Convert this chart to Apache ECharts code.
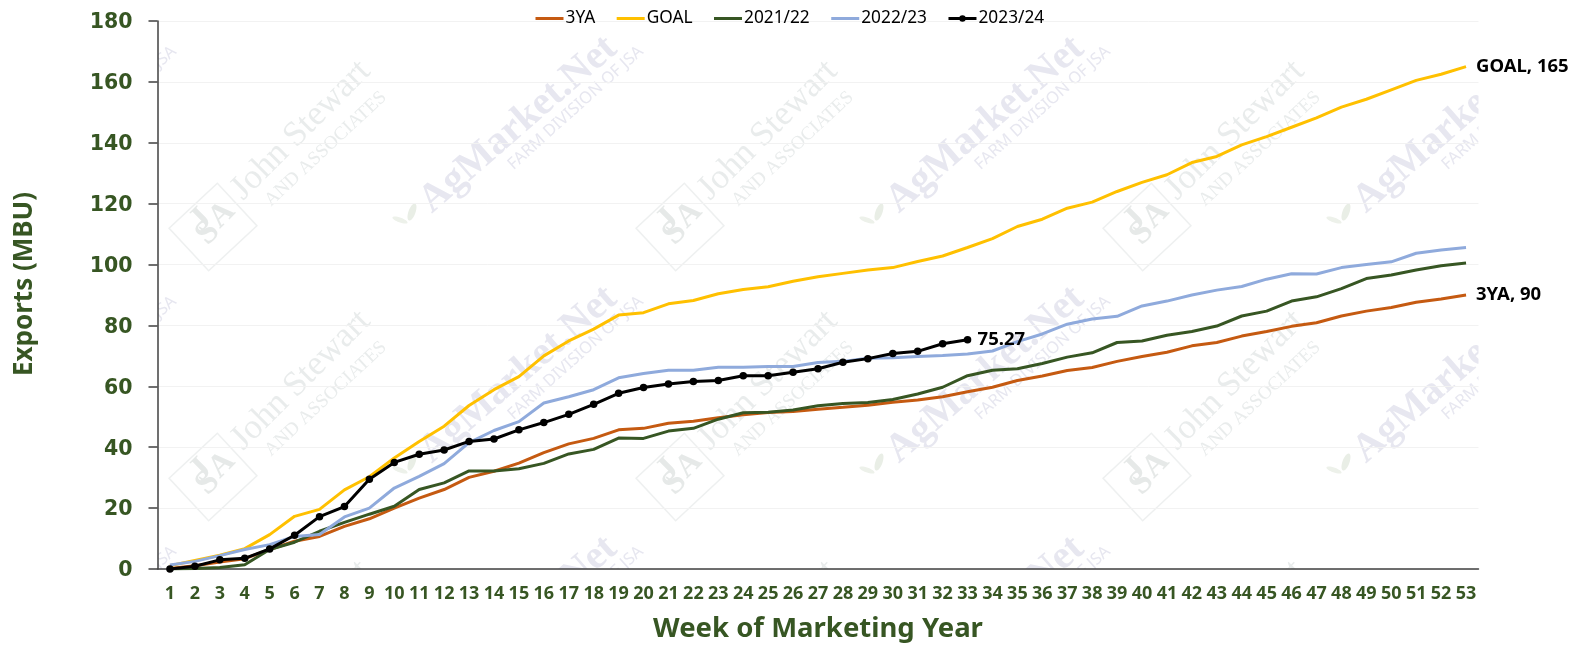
<!DOCTYPE html>
<html>
<head>
<meta charset="utf-8">
<title>Exports</title>
<style>
  html, body { margin: 0; padding: 0; background: #fff; }
  #chart { width: 1585px; height: 645px; }
</style>
</head>
<body>
<div id="chart"></div>
<script src="https://cdn.jsdelivr.net/npm/echarts@6/dist/echarts.min.js"></script>
<script>
const weeks = []
for (let w = 1; w <= 53; w++) weeks.push(String(w))

const threeYA = [0.2,1.1,2.3,3.4,6.4,9.1,10.7,14,16.5,20,23.3,26.1,30.1,32.1,34.8,38.2,41.1,42.9,45.7,46.2,47.9,48.5,49.7,50.7,51.4,51.7,52.5,53.1,53.8,54.8,55.5,56.6,58.2,59.7,61.9,63.4,65.2,66.2,68.2,69.8,71.2,73.3,74.4,76.5,78,79.7,80.9,83.1,84.7,85.9,87.6,88.7,90]
const goal = [1.1,2.8,4.5,6.7,11.3,17.3,19.6,26,30.3,36.5,41.9,46.9,53.7,58.9,63.2,70,74.9,78.8,83.4,84.2,87.1,88.2,90.4,91.8,92.7,94.5,96,97.1,98.2,99,101,102.8,105.6,108.5,112.5,114.9,118.5,120.5,124,127,129.5,133.5,135.5,139.3,142,145.1,148.2,151.7,154.3,157.4,160.5,162.5,165]
const y2122 = [0,0.2,0.5,1.4,6.4,8.8,12.4,15.3,18,20.6,26.1,28.3,32.2,32.2,32.9,34.7,37.8,39.3,43,42.9,45.3,46.2,49.2,51.3,51.5,52.2,53.6,54.4,54.7,55.7,57.5,59.7,63.5,65.3,65.8,67.5,69.6,71,74.4,74.9,76.8,78,79.8,83.1,84.7,88,89.4,92.1,95.4,96.6,98.2,99.6,100.5]
const y2223 = [1.3,2.5,4.4,6.4,8,10.7,11.3,17.1,20,26.6,30.4,34.6,41.5,45.5,48.4,54.5,56.6,58.9,62.8,64.2,65.3,65.3,66.3,66.3,66.5,66.5,67.8,68.2,69.2,69.4,69.8,70.1,70.6,71.6,74.7,77.2,80.4,82.1,83,86.4,88,90,91.6,92.8,95.2,97,96.9,99,100,100.9,103.7,104.8,105.6]
const y2324 = [0,0.9,3,3.5,6.6,11.1,17.2,20.5,29.5,35,37.7,39.1,41.9,42.7,45.7,48.1,50.8,54.1,57.7,59.6,60.8,61.6,61.9,63.5,63.5,64.6,65.8,67.9,69.1,70.8,71.5,74,75.27]

const green = '#375623'
const plot = { left: 157.5, right: 1478.5, top: 21, bottom: 569 }

// faint logo repeated behind the plot, the white rects at z -1 cut it off at the plot edge
function watermark() {
  const els = []
  const gray = '#e9ecec'
  const blue = '#e7e7f0'
  const txt = (text, x, y, deg, font, fill) => ({
    type: 'text', x, y, z: -2, rotation: deg * Math.PI / 180,
    style: { text, font, fill, verticalAlign: 'bottom' }
  })
  const letter = (text, x, y, font) => ({
    type: 'text', x, y, z: -2, rotation: Math.PI / 4,
    style: { text, font, fill: '#e6e9e8', align: 'center', verticalAlign: 'middle' }
  })
  for (let c = -1; c < 3; c++) {
    for (let r = 0; r < 3; r++) {
      const dx = c * 467
      const dy = r * 250
      els.push({
        type: 'rect', x: 213 + dx, y: 227 + dy, z: -2, rotation: 43 * Math.PI / 180,
        shape: { x: -33, y: -29, width: 66, height: 58 },
        style: { fill: 'none', stroke: '#eef0f0', lineWidth: 1.5 }
      })
      els.push(letter('J', 201 + dx, 220 + dy, 'bold 34px "Liberation Serif"'))
      els.push(letter('S', 208 + dx, 233 + dy, 'bold 34px "Liberation Serif"'))
      els.push(letter('A', 222 + dx, 215 + dy, 'bold 32px "Liberation Serif"'))
      els.push(txt('John Stewart', 249 + dx, 207 + dy, 45, '35px "Liberation Serif"', gray))
      els.push(txt('AND ASSOCIATES', 274 + dx, 210 + dy, 43, '19px "Liberation Serif"', gray))
      els.push(txt('AgMarket.Net', 438 + dx, 221 + dy, 41, 'bold 40px "Liberation Serif"', blue))
      els.push(txt('FARM DIVISION OF JSA', 516 + dx, 173 + dy, 42, '16.5px "Noto Sans"', blue))
      els.push({
        type: 'ellipse', x: 412 + dx, y: 212 + dy, z: -2, rotation: -20 * Math.PI / 180,
        shape: { cx: 0, cy: 0, rx: 3.5, ry: 9 }, style: { fill: '#e9eee6' }
      })
      els.push({
        type: 'ellipse', x: 400 + dx, y: 220 + dy, z: -2, rotation: 70 * Math.PI / 180,
        shape: { cx: 0, cy: 0, rx: 2.5, ry: 8 }, style: { fill: '#edf1ea' }
      })
    }
  }
  const cover = (x, y, width, height) => ({
    type: 'rect', z: -1, shape: { x, y, width, height }, style: { fill: '#fff' }
  })
  els.push(cover(0, 0, plot.left, 645))
  els.push(cover(plot.right, 0, 1585 - plot.right, 645))
  els.push(cover(0, 0, 1585, plot.top))
  els.push(cover(0, plot.bottom, 1585, 645 - plot.bottom))
  return els
}

function endLabel(formatter) {
  return {
    show: true, formatter, distance: 10, color: '#000',
    fontFamily: 'Noto Sans', fontWeight: 'bold', fontSize: 18.5
  }
}

function lineSeries(name, data, color, extra) {
  return Object.assign({
    name, data, type: 'line', symbol: 'none', smooth: false, animation: false,
    lineStyle: { color, width: 3 }, itemStyle: { color }
  }, extra)
}

// legend draws a dot on every line series, hide it on the ones without markers
const noDot = { opacity: 0 }

const chart = echarts.init(document.getElementById('chart'))
chart.setOption({
  animation: false,
  backgroundColor: '#fff',
  graphic: { elements: watermark() },
  grid: {
    left: plot.left, right: 1585 - plot.right, top: plot.top, bottom: 645 - plot.bottom,
    outerBoundsMode: 'none'
  },
  legend: {
    left: 534, top: 10, padding: 0, itemWidth: 28, itemHeight: 8, itemGap: 20,
    lineStyle: { width: 3 },
    textStyle: { fontFamily: 'Noto Sans', fontSize: 17.3, color: '#000', padding: [0, 0, 0, -3] },
    data: [
      { name: '3YA', itemStyle: noDot },
      { name: 'GOAL', itemStyle: noDot },
      { name: '2021/22', itemStyle: noDot },
      { name: '2022/23', itemStyle: noDot },
      { name: '2023/24' }
    ]
  },
  xAxis: {
    type: 'category',
    data: weeks,
    boundaryGap: true,
    name: 'Week of Marketing Year',
    nameLocation: 'middle',
    nameGap: 46,
    nameTextStyle: { color: green, fontFamily: 'Noto Sans', fontWeight: 'bold', fontSize: 27.5 },
    axisLine: { lineStyle: { color: '#404040', width: 1.5 } },
    axisTick: { length: 6, lineStyle: { color: '#404040', width: 1.5 } },
    axisLabel: { interval: 0, color: green, fontFamily: 'Noto Sans', fontWeight: 'bold', fontSize: 18, margin: 16 }
  },
  yAxis: {
    type: 'value',
    min: 0,
    max: 180,
    interval: 20,
    name: 'Exports (MBU)',
    nameLocation: 'middle',
    nameGap: 120,
    nameTextStyle: { color: green, fontFamily: 'Noto Sans', fontWeight: 'bold', fontSize: 26, padding: [0, 0, 0, 22] },
    axisLine: { show: true, lineStyle: { color: '#404040', width: 1.5 } },
    axisTick: { show: true, length: 9, lineStyle: { color: '#404040', width: 1.5 } },
    // top + small lineHeight nudges the digits down onto the tick
    axisLabel: { color: green, fontFamily: 'DejaVu Sans', fontWeight: 'bold', fontSize: 20.5, margin: 25, verticalAlign: 'top', lineHeight: 4 },
    splitLine: { lineStyle: { color: '#f2f2f2', width: 1 } }
  },
  series: [
    lineSeries('3YA', threeYA, '#c55a11', { endLabel: endLabel('3YA, 90') }),
    lineSeries('GOAL', goal, '#ffc000', { endLabel: endLabel('GOAL, 165') }),
    lineSeries('2021/22', y2122, green),
    lineSeries('2022/23', y2223, '#8faadc'),
    lineSeries('2023/24', y2324, '#000', {
      symbol: 'circle', symbolSize: 7.5, showSymbol: true,
      endLabel: endLabel('75.27')
    })
  ]
})

window.addEventListener('resize', () => {
  chart.resize()
})
</script>
</body>
</html>
